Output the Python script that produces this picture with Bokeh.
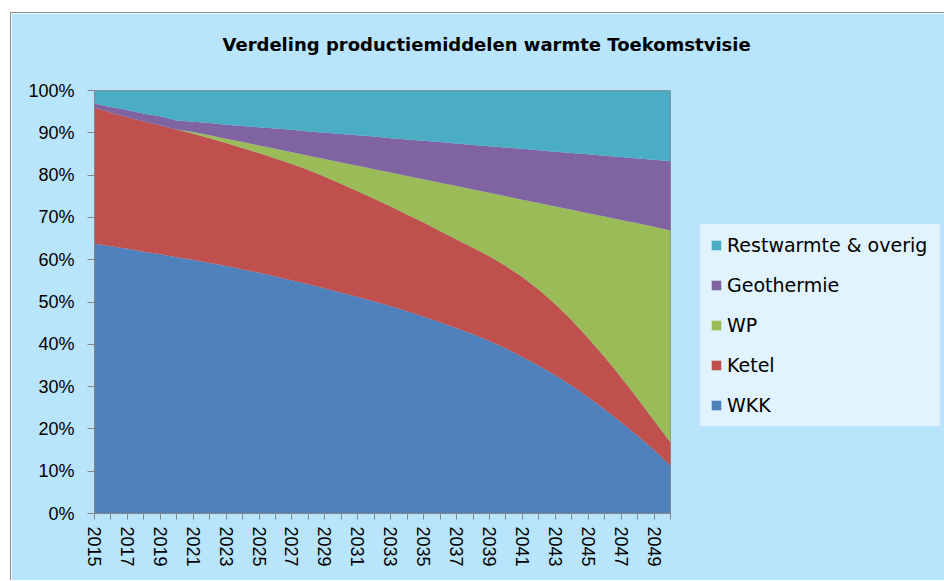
from bokeh.plotting import figure
from bokeh.models import (Range1d, FixedTicker, Legend, LegendItem,
                          ColumnDataSource, Title)
from bokeh.embed import file_html
from bokeh.resources import INLINE

years = list(range(2015, 2051))
wkk = [63.8, 63.2, 62.6, 61.9, 61.3, 60.6, 59.9, 59.2, 58.5, 57.7, 56.9, 56.0,
       55.1, 54.2, 53.2, 52.2, 51.2, 50.1, 49.0, 47.8, 46.5, 45.2, 43.8, 42.4,
       40.8, 39.0, 37.0, 34.9, 32.7, 30.2, 27.5, 24.6, 21.6, 18.4, 15.0, 11.3]
ketel = [32.1, 31.6, 31.1, 30.8, 30.4, 30.2, 29.9, 29.5, 29.1, 28.7, 28.3, 27.9,
         27.5, 27.0, 26.4, 25.7, 25.0, 24.3, 23.6, 22.9, 22.3, 21.6, 21.0, 20.4,
         20.0, 19.5, 18.9, 18.0, 16.8, 15.5, 14.0, 12.4, 10.6, 8.8, 7.0, 5.5]
wp = [0.0, 0.0, 0.0, 0.0, 0.0, 0.0, 0.4, 0.7, 1.0, 1.4, 1.8, 2.3,
      2.8, 3.4, 4.2, 5.1, 6.0, 7.0, 8.0, 9.1, 10.2, 11.4, 12.6, 13.8,
      15.0, 16.5, 18.3, 20.5, 23.1, 26.1, 29.5, 33.2, 37.2, 41.4, 45.8, 50.1]
geo = [1.0, 1.3, 1.7, 1.8, 2.2, 2.1, 2.4, 2.9, 3.3, 3.8, 4.3, 4.8,
       5.3, 5.7, 6.2, 6.7, 7.2, 7.7, 8.1, 8.6, 9.1, 9.6, 10.1, 10.5,
       11.0, 11.5, 12.0, 12.5, 12.9, 13.4, 13.9, 14.4, 14.9, 15.3, 15.8, 16.4]
rest = [3.1, 3.9, 4.6, 5.5, 6.1, 7.1, 7.4, 7.7, 8.1, 8.4, 8.7, 9.0,
        9.3, 9.7, 10.0, 10.3, 10.6, 10.9, 11.3, 11.6, 11.9, 12.2, 12.5, 12.9,
        13.2, 13.5, 13.8, 14.1, 14.5, 14.8, 15.1, 15.4, 15.7, 16.1, 16.4, 16.7]

series_names = ["WKK", "Ketel", "WP", "Geothermie", "Restwarmte & overig"]
series_keys = ["wkk", "ketel", "wp", "geo", "rest"]
colors = ["#4F81BD", "#C0504D", "#9BBB59", "#8064A2", "#4BACC6"]
y_ticks = list(range(0, 101, 10))
title_text = "Verdeling productiemiddelen warmte Toekomstvisie"

BG = "#B8E4FC"
LEG_BG = "#E1F3FD"
AXIS = "#868686"

source = ColumnDataSource(dict(year=years, wkk=wkk, ketel=ketel, wp=wp, geo=geo, rest=rest))

p = figure(frame_width=576, frame_height=423,
           x_range=Range1d(2015, 2050), y_range=Range1d(0, 100),
           toolbar_location=None, output_backend="svg",
           min_border_left=83, min_border_right=273,
           min_border_top=77, min_border_bottom=67)
p.margin = (12, 0, 0, 10)
p.styles = {"border-top": "1px solid #8C8C8C", "border-left": "1px solid #8C8C8C"}

p.background_fill_color = BG
p.border_fill_color = BG
p.outline_line_color = "#8C8C8C"
p.grid.visible = False

renderers = p.varea_stack(stackers=series_keys, x="year", color=colors, source=source)

# axes
p.yaxis.ticker = FixedTicker(ticks=y_ticks)
p.yaxis.major_label_overrides = {t: f"{t}%" for t in y_ticks}
p.xaxis.ticker = FixedTicker(ticks=years)
p.xaxis.major_label_overrides = {y: (str(y) if (y - 2015) % 2 == 0 else "") for y in years}
p.xaxis.major_label_orientation = "vertical"
for ax in (p.xaxis, p.yaxis):
    ax.axis_line_color = AXIS
    ax.major_tick_line_color = AXIS
    ax.minor_tick_line_color = None
    ax.major_tick_in = 0
    ax.major_label_text_font = "Liberation Sans"
    ax.major_label_text_font_size = "18px"
    ax.major_label_text_color = "black"
p.yaxis.major_tick_out = 7
p.yaxis.major_label_standoff = 13
p.xaxis.major_tick_out = 6
p.xaxis.major_label_standoff = 7

# title (outermost) with an empty spacer between it and the frame
p.title = Title(text=title_text, align="left", offset=128,
                text_font="DejaVu Sans", text_font_style="bold",
                text_font_size="18px", text_color="black",
                vertical_align="bottom", standoff=4)
spacer = Title(text=" ", text_font_size="1px", standoff=31)
p.add_layout(spacer, "above")

# legend (top-to-bottom reversed order)
items = [LegendItem(label=series_names[i], renderers=[renderers[i]]) for i in range(4, -1, -1)]
legend = Legend(items=items, location=(30, 87),
                background_fill_color=LEG_BG, background_fill_alpha=1.0,
                border_line_color=LEG_BG, border_line_alpha=0.0,
                label_text_font="DejaVu Sans", label_text_font_size="19px",
                label_text_color="black",
                glyph_width=12, glyph_height=12, label_standoff=5,
                label_width=203, label_height=22, spacing=18, padding=10, margin=0)
p.add_layout(legend, "right")

open("out.html", "w").write(file_html(p, INLINE))
